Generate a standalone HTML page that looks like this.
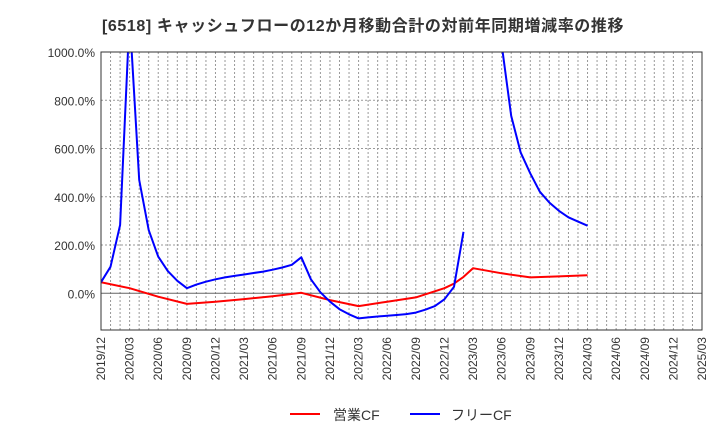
<!DOCTYPE html>
<html><head><meta charset="utf-8"><style>
body{margin:0;background:#fff;font-family:"Liberation Sans","Noto Sans CJK JP",sans-serif}
</style></head><body>
<svg id="c" width="720" height="440" xmlns="http://www.w3.org/2000/svg">
<text x="102" y="31" font-size="16" letter-spacing="0.6" font-weight="bold" fill="#333" font-family="Liberation Sans, Noto Sans CJK JP, sans-serif">[6518]  キャッシュフローの12か月移動合計の対前年同期増減率の推移</text>
<g id="grid"></g><g id="series"></g><g id="axes"></g>
<g>
<line x1="290" y1="414" x2="320" y2="414" stroke="#f00" stroke-width="2"/>
<text x="333" y="420" font-size="14" fill="#333">営業CF</text>
<line x1="410" y1="414" x2="440" y2="414" stroke="#00f" stroke-width="2"/>
<text x="451" y="420" font-size="14" fill="#333">フリーCF</text>
</g>
</svg>
<script>
const xTickLabels=["2019/12","2020/03","2020/06","2020/09","2020/12","2021/03","2021/06","2021/09","2021/12","2022/03","2022/06","2022/09","2022/12","2023/03","2023/06","2023/09","2023/12","2024/03","2024/06","2024/09","2024/12","2025/03"];
const yTicks=[0,200,400,600,800,1000];
const redMonths=[0,3,6,9,12,15,18,21,24,27,30,33,36,37,38,39,42,45,48,51];
const redValues=[46,21,-14,-44,-35,-24,-12,2,-28,-53,-35,-17,21,40,68,104,83,66,70,75];
const blueMonths=[0,1,2,3,4,5,6,7,8,9,10,11,12,13,14,15,16,17,18,19,20,21,22,23,24,25,26,27,28,29,30,31,32,33,34,35,36,37,38,null,42,43,44,45,46,47,48,49,50,51];
const blueValues=[46,110,283,1150,470,262,152,92,52,21,36,48,58,66,72,78,84,90,98,107,118,149,58,4,-35,-66,-87,-104,-100,-96,-93,-90,-86,-80,-68,-53,-25,27,255,null,1030,735,583,497,421,376,342,315,297,280];
const L=101,R=702,T=52,B=330,NM=63;
const X=m=>L+m*(R-L)/NM;
const Y=v=>293.3-v*(293.3-52)/1000;
const ns="http://www.w3.org/2000/svg";
function mk(p,t,a){const e=document.createElementNS(ns,t);for(const k in a)e.setAttribute(k,a[k]);p.appendChild(e);return e;}
const g=document.getElementById('grid'),ax=document.getElementById('axes'),s=document.getElementById('series');
for(let m=1;m<NM;m++){const l=mk(g,'line',{x1:X(m),x2:X(m),y1:T,y2:B,stroke:'#999','stroke-dasharray':'2,2','stroke-width':1});

}
yTicks.forEach(v=>{const y=Y(v);const l=mk(g,'line',{x1:L,x2:R,y1:y,y2:y,stroke:v===0?'#666':'#999','stroke-dasharray':v===0?'':'2,2','stroke-width':1});


const t=mk(ax,'text',{x:L-6,y:y+5,'text-anchor':'end','font-size':12,fill:'#333'});t.textContent=v.toFixed(1)+'%';

});
xTickLabels.forEach((lb,i)=>{const x=X(i*3);const t=mk(ax,'text',{x:0,y:0,transform:`translate(${x+4},337) rotate(-90)`,'text-anchor':'end','font-size':12,fill:'#333'});t.textContent=lb;

});
const fr=mk(ax,'rect',{x:L,y:T,width:R-L,height:B-T,fill:'none',stroke:'#333','stroke-width':1});


mk(s,'clipPath',{id:'cp'}).appendChild(document.createElementNS(ns,'rect'));
const cr=s.querySelector('clipPath rect');cr.setAttribute('x',L);cr.setAttribute('y',T);cr.setAttribute('width',R-L);cr.setAttribute('height',B-T);
function path(ms,vs,col,name){let d='',pen=false;ms.forEach((m,i)=>{if(m===null||vs[i]===null){pen=false;return;}d+=(pen?'L':'M')+X(m).toFixed(1)+' '+Y(vs[i]).toFixed(1)+' ';pen=true;});
const p=mk(s,'path',{d:d,fill:'none',stroke:col,'stroke-width':2,'clip-path':'url(#cp)','stroke-linejoin':'round'});

}
path(redMonths,redValues,'#f00','operating-cf-line');
path(blueMonths,blueValues,'#00f','free-cf-line');
</script>
</body></html>
